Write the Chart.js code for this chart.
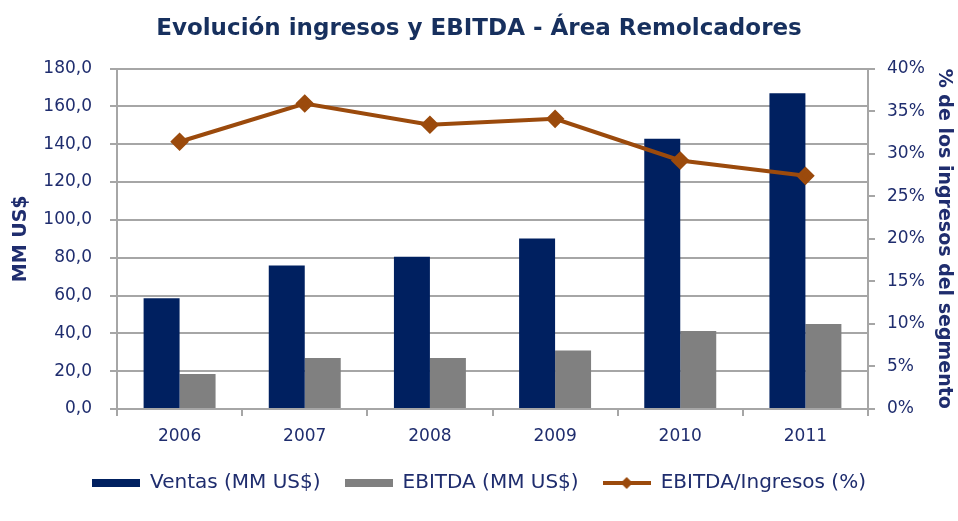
<!DOCTYPE html>
<html>
<head>
<meta charset="utf-8">
<script src="https://cdn.jsdelivr.net/npm/chart.js@4"></script>
<style>
  html, body { margin: 0; padding: 0; background: #fff; }
  #wrap { width: 958px; height: 521px; }
</style>
</head>
<body>
<div id="wrap"><canvas id="chart" width="958" height="521"></canvas></div>
<script>
// ---- data ----
const years = ['2006', '2007', '2008', '2009', '2010', '2011'];
const ventas = [58.5, 75.9, 80.5, 90.2, 142.9, 166.9];
const ebitda = [18.5, 27.0, 27.0, 30.9, 41.3, 45.0];
const margen = [31.4, 35.9, 33.4, 34.1, 29.2, 27.4];

const NAVY = '#002060';
const GREY = '#808080';
const BROWN = '#9b4a0c';
const TEXT = '#1f2d6e';
const GRID = '#a6a6a6';
const FONT = '"DejaVu Sans", Verdana, sans-serif';

// small canvases used as legend icons
function makeIcon(kind, color) {
    const c = document.createElement('canvas');
    c.width = 48; c.height = 14;
    const g = c.getContext('2d');
    g.fillStyle = color;
    if (kind === 'bar') {
        g.fillRect(0, 3, 48, 8);
    } else {
        g.fillRect(0, 5, 48, 4);
        g.beginPath();
        g.moveTo(24, 1); g.lineTo(30, 7); g.lineTo(24, 13); g.lineTo(18, 7);
        g.closePath();
        g.fill();
    }
    return c;
}
const icons = [makeIcon('bar', NAVY), makeIcon('bar', GREY), makeIcon('line', BROWN)];

new Chart(document.getElementById('chart'), {
    type: 'bar',
    data: {
        labels: years,
        datasets: [
            {
                label: 'Ventas (MM US$)',
                data: ventas,
                backgroundColor: NAVY,
                yAxisID: 'y',
                order: 2,
                barPercentage: 1,
                categoryPercentage: 0.575
            },
            {
                label: 'EBITDA (MM US$)',
                data: ebitda,
                backgroundColor: GREY,
                yAxisID: 'y',
                order: 2,
                barPercentage: 1,
                categoryPercentage: 0.575
            },
            {
                type: 'line',
                label: 'EBITDA/Ingresos (%)',
                data: margen,
                borderColor: BROWN,
                backgroundColor: BROWN,
                borderWidth: 4,
                pointStyle: 'rectRot',
                pointRadius: 6.5,
                pointBackgroundColor: BROWN,
                pointBorderColor: BROWN,
                yAxisID: 'y1',
                order: 1,
                tension: 0
            }
        ]
    },
    options: {
        responsive: false,
        animation: false,
        layout: { padding: { left: 0, right: 0, top: 0, bottom: 18 } },
        plugins: {
            title: {
                display: true,
                text: 'Evolución ingresos y EBITDA - Área Remolcadores',
                color: '#17305e',
                font: { family: FONT, size: 23, weight: 'bold' },
                padding: { top: 15, bottom: 26 }
            },
            legend: {
                position: 'bottom',
                labels: {
                    color: TEXT,
                    font: { family: FONT, size: 20 },
                    usePointStyle: true,
                    pointStyleWidth: 48,
                    padding: 24,
                    sort: (a, b) => a.datasetIndex - b.datasetIndex,
                    generateLabels(chart) {
                        const items = Chart.defaults.plugins.legend.labels.generateLabels(chart);
                        items.forEach(it => { it.pointStyle = icons[it.datasetIndex]; });
                        return items;
                    }
                }
            },
            tooltip: { enabled: false }
        },
        scales: {
            x: {
                offset: true,
                grid: {
                    offset: true,
                    drawOnChartArea: false,
                    drawTicks: true,
                    tickLength: 7,
                    color: GRID,
                    lineWidth: 2
                },
                border: { color: GRID, width: 2 },
                ticks: { color: TEXT, font: { family: FONT, size: 17 }, padding: 10 },
                afterFit(scale) { scale.height = 40; }
            },
            y: {
                position: 'left',
                min: 0,
                max: 180,
                ticks: {
                    stepSize: 20,
                    color: TEXT,
                    font: { family: FONT, size: 17 },
                    padding: 18,
                    callback: v => v.toFixed(1).replace('.', ',')
                },
                grid: { color: GRID, lineWidth: 2, tickLength: 7 },
                border: { color: GRID, width: 2 },
                title: {
                    display: true,
                    text: 'MM US$',
                    color: TEXT,
                    font: { family: FONT, size: 19, weight: 'bold' },
                    padding: { top: 10, bottom: 0 }
                },
                afterFit(scale) { scale.width = 117; }
            },
            y1: {
                position: 'right',
                min: 0,
                max: 40,
                ticks: {
                    stepSize: 5,
                    color: TEXT,
                    font: { family: FONT, size: 17 },
                    padding: 12,
                    callback: v => v + '%'
                },
                grid: { drawOnChartArea: false, color: GRID, lineWidth: 2, tickLength: 7 },
                border: { color: GRID, width: 2 },
                title: {
                    display: true,
                    text: '% de los ingresos del segmento',
                    color: TEXT,
                    font: { family: FONT, size: 19, weight: 'bold' },
                    padding: { top: 3, bottom: 0 }
                },
                afterFit(scale) { scale.width = 90; }
            }
        }
    }
});
</script>
</body>
</html>
